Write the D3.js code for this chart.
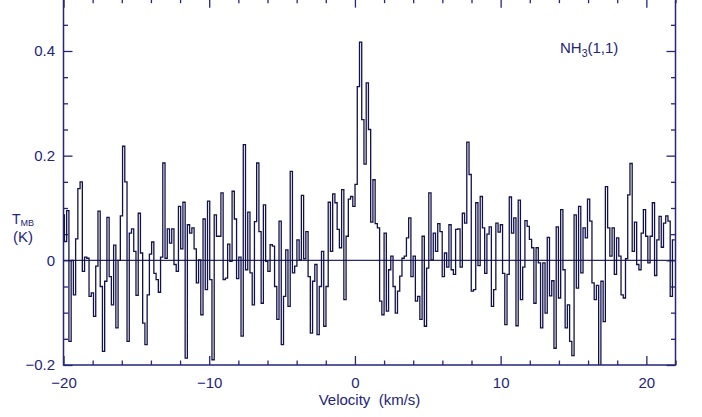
<!DOCTYPE html>
<html>
<head>
<meta charset="utf-8">
<script src="https://cdn.jsdelivr.net/npm/d3@7"></script>
<style>
  html, body { margin: 0; padding: 0; background: #ffffff; }
  svg { display: block; }
  text { font-family: "Liberation Sans", Arial, Helvetica, sans-serif; fill: #24247a; }
</style>
</head>
<body>
<svg id="chart" width="702" height="417"></svg>
<script>
// NH3(1,1) main-beam brightness temperature spectrum.
// Spectral axis: centre of the first channel and channel width (km/s).
const velocityStart = -20.012;
const channelWidth = 0.1534;

// Main-beam brightness temperature per channel (K).
const tmb = [
  0.087, 0.036, 0.095, -0.155, 0.000, -0.066, 0.041, 0.137, 0.150, -0.021,
  0.006, 0.004, -0.069, -0.062, -0.107, -0.011, 0.094, -0.050, -0.174, -0.040,
  0.082, -0.031, -0.085, 0.029, -0.129, 0.000, 0.085, 0.218, 0.150, -0.155,
  0.052, 0.060, 0.017, -0.067, 0.090, 0.014, -0.120, -0.161, -0.066, 0.012,
  0.035, -0.025, -0.037, -0.061, 0.006, 0.186, 0.004, 0.060, 0.033, 0.060,
  -0.008, -0.021, 0.103, 0.022, 0.111, -0.187, 0.068, 0.052, 0.062, 0.022,
  -0.043, 0.001, -0.104, 0.079, -0.056, 0.113, -0.037, -0.190, 0.087, 0.046,
  0.046, 0.129, -0.037, -0.034, 0.031, -0.002, 0.132, 0.079, -0.035, 0.006,
  -0.145, 0.221, -0.018, 0.092, -0.024, -0.085, 0.074, 0.186, 0.055, -0.082,
  0.106, -0.002, -0.021,
  0.030, 0.027, -0.050, -0.113, 0.075, -0.161, -0.069, 0.020, -0.088, 0.170,
  -0.024, -0.011, 0.039, 0.001, 0.124, 0.003, 0.055, -0.031, -0.139, -0.040,
  -0.008, -0.142, -0.050, 0.017, -0.126, -0.050, 0.111, 0.017, 0.127, 0.110,
  0.059, 0.024, 0.135, -0.075, 0.046, 0.117, 0.122, 0.103, 0.145,
  0.332, 0.417, 0.269, 0.184, 0.339, 0.250, 0.073, 0.154, 0.070, 0.062,
  -0.078, -0.104, 0.052, -0.097, -0.018, 0.008,
  -0.050, -0.101, -0.059, -0.030, 0.004, 0.008, 0.043, 0.081, -0.031, 0.008,
  -0.078, -0.069, -0.113, 0.046, -0.126, -0.015, 0.129, 0.001, 0.052, 0.017,
  0.070, 0.055, -0.031, 0.014, -0.013, 0.068, -0.018, -0.027, 0.059, 0.060,
  -0.013, 0.090, 0.071, 0.226, 0.164, -0.059, -0.056,
  0.110, -0.010, 0.122, 0.062, -0.025, 0.050, 0.064, -0.088, -0.056, 0.071,
  0.054, 0.068, -0.025, -0.123, -0.027, 0.121, 0.052, 0.081, -0.125, 0.115,
  -0.075, -0.013, 0.076, 0.065, 0.040, 0.024, -0.082, 0.024, -0.005, -0.129,
  -0.005, -0.101, 0.044, -0.068, -0.039, -0.168, 0.064, -0.072, 0.097, -0.018,
  -0.129, -0.085, -0.155, -0.182, 0.087, -0.053, 0.103, -0.024, 0.062, 0.043,
  0.117, 0.075, -0.043, -0.075, -0.048, -0.215, -0.040, -0.117, 0.141, 0.062,
  0.008, 0.062, -0.027, 0.043, 0.008, -0.066, -0.072, 0.003, 0.125, 0.185,
  0.017, 0.073, -0.008, -0.018, 0.052, 0.097, 0.046, -0.005, 0.046, 0.110,
  -0.029, 0.039, 0.084, 0.025, 0.071, 0.085, 0.075, -0.069, 0.039
];

// Axis ranges and tick marks.
const velocityDomain = [-20, 22];
const tmbDomain = [-0.2, 0.5];
const xMajorTicks = [-20, -10, 0, 10, 20];
const xMinorStep = 2;
const yMajorTicks = [-0.2, 0, 0.2, 0.4];
const yMinorStep = 0.05;

// Text.
const xTitle = "Velocity  (km/s)";
const yTitleMain = "T";
const yTitleSub = "MB";
const yTitleUnit = "(K)";
const lineLabelMain = "NH";
const lineLabelSub = "3";
const lineLabelRest = "(1,1)";

const frameColor = "#25257a";
const traceColor = "#12124a";

const svg = d3.select("#chart");
const plotLeft = 63.5, plotRight = 675.5, plotBottom = 365, plotTop = -1.35;

const x = d3.scaleLinear().domain(velocityDomain).range([plotLeft, plotRight]);
const y = d3.scaleLinear().domain(tmbDomain).range([plotBottom, plotTop]);

const xMinor = d3.range(velocityDomain[0], velocityDomain[1] + 1e-9, xMinorStep)
  .filter(v => !xMajorTicks.includes(v));
const yMinor = d3.range(tmbDomain[0], tmbDomain[1] + 1e-9, yMinorStep)
  .map(v => +v.toFixed(3))
  .filter(v => !yMajorTicks.some(t => Math.abs(t - v) < 1e-6));

const fmtX = d3.format("d");
const fmtY = d => (d === 0 ? "0" : d3.format(".1f")(d));

function styleAxis(g) {
  g.select(".domain").remove();
  g.selectAll(".tick line").attr("stroke", frameColor).attr("stroke-width", 1.3);
  g.selectAll(".tick text")
    .attr("font-size", 15)
    .attr("fill", "#24247a")
    .style("font-family", '"Liberation Sans", Arial, sans-serif');
}

// Bottom axis (labelled), ticks pointing into the frame.
svg.append("g").attr("transform", `translate(0,${plotBottom})`)
  .call(d3.axisBottom(x).tickValues(xMajorTicks).tickSize(-9).tickPadding(12.6).tickFormat(fmtX))
  .call(styleAxis);
svg.append("g").attr("transform", `translate(0,${plotBottom})`)
  .call(d3.axisBottom(x).tickValues(xMinor).tickSize(-4.5).tickFormat(""))
  .call(styleAxis);

// Top axis (ticks only).
svg.append("g").attr("transform", `translate(0,${plotTop})`)
  .call(d3.axisTop(x).tickValues(xMajorTicks).tickSize(-9).tickFormat(""))
  .call(styleAxis);
svg.append("g").attr("transform", `translate(0,${plotTop})`)
  .call(d3.axisTop(x).tickValues(xMinor).tickSize(-4.5).tickFormat(""))
  .call(styleAxis);

// Left axis (labelled).
svg.append("g").attr("transform", `translate(${plotLeft},0)`)
  .call(d3.axisLeft(y).tickValues(yMajorTicks).tickSize(-9).tickPadding(8.5).tickFormat(fmtY))
  .call(styleAxis);
svg.append("g").attr("transform", `translate(${plotLeft},0)`)
  .call(d3.axisLeft(y).tickValues(yMinor).tickSize(-4.5).tickFormat(""))
  .call(styleAxis);

// Right axis (ticks only).
svg.append("g").attr("transform", `translate(${plotRight},0)`)
  .call(d3.axisRight(y).tickValues(yMajorTicks).tickSize(-9).tickFormat(""))
  .call(styleAxis);
svg.append("g").attr("transform", `translate(${plotRight},0)`)
  .call(d3.axisRight(y).tickValues(yMinor).tickSize(-4.5).tickFormat(""))
  .call(styleAxis);

// Clip region for the spectrum.
svg.append("defs").append("clipPath").attr("id", "plotClip")
  .append("rect").attr("x", plotLeft).attr("y", plotTop)
  .attr("width", plotRight - plotLeft).attr("height", plotBottom - plotTop);

// Zero baseline.
svg.append("line")
  .attr("x1", plotLeft).attr("x2", plotRight)
  .attr("y1", y(0)).attr("y2", y(0))
  .attr("stroke", "#2a2a66").attr("stroke-width", 1.3);

// Histogram-style spectrum: each channel spans one channel width.
const steps = tmb.map((t, i) => ({ v: velocityStart + (i - 0.5) * channelWidth, t }));
steps.push({ v: velocityStart + (tmb.length - 0.5) * channelWidth, t: tmb[tmb.length - 1] });

const stepLine = d3.line()
  .x(d => x(d.v))
  .y(d => y(d.t))
  .curve(d3.curveStepAfter);

svg.append("path")
  .datum(steps)
  .attr("clip-path", "url(#plotClip)")
  .attr("fill", "none")
  .attr("stroke", traceColor)
  .attr("stroke-width", 1.3)
  .attr("stroke-linejoin", "miter")
  .attr("d", stepLine);

// Frame.
svg.append("rect")
  .attr("x", plotLeft).attr("y", plotTop)
  .attr("width", plotRight - plotLeft).attr("height", plotBottom - plotTop)
  .attr("fill", "none").attr("stroke", frameColor).attr("stroke-width", 1.5);

// Axis titles.
svg.append("text")
  .attr("x", (plotLeft + plotRight) / 2).attr("y", 404.5)
  .attr("text-anchor", "middle").attr("font-size", 15)
  .style("white-space", "pre")
  .text(xTitle);

const yt = svg.append("text").attr("x", 12).attr("y", 224).attr("font-size", 14);
yt.append("tspan").text(yTitleMain);
yt.append("tspan").attr("font-size", 9).attr("dy", 1.5).text(yTitleSub);

svg.append("text").attr("x", 13).attr("y", 242).attr("font-size", 15).text(yTitleUnit);

// Transition label.
const lbl = svg.append("text").attr("x", 560).attr("y", 53).attr("font-size", 15);
lbl.append("tspan").text(lineLabelMain);
lbl.append("tspan").attr("font-size", 10.5).attr("dy", 4).text(lineLabelSub);
lbl.append("tspan").attr("dy", -4).text(lineLabelRest);
</script>
</body>
</html>
